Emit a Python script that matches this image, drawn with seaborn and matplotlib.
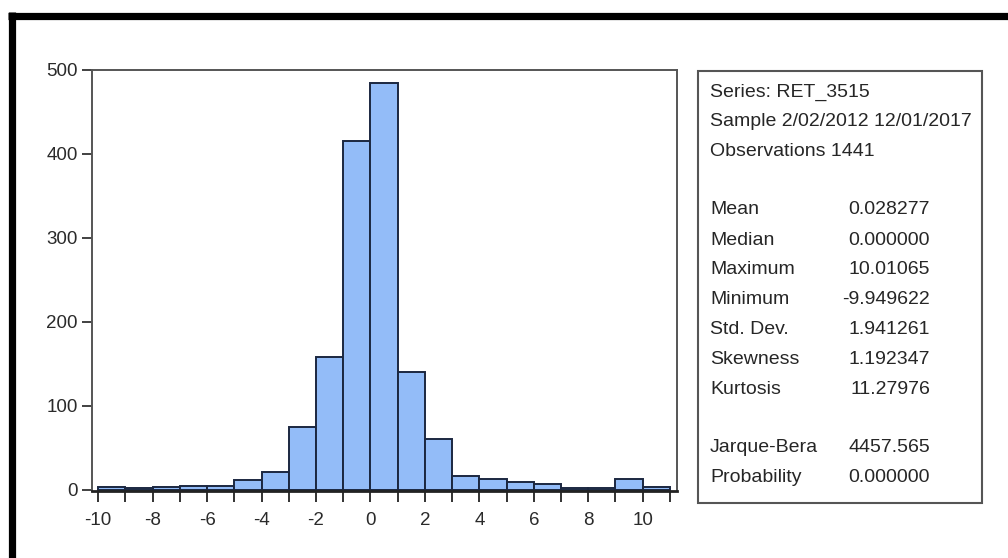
import numpy as np
import pandas as pd
import seaborn as sns
import matplotlib
matplotlib.use("Agg")
import matplotlib.pyplot as plt
from matplotlib.patches import Rectangle
from matplotlib.lines import Line2D

# ---- data ----
bin_left = [-10, -9, -8, -7, -6, -5, -4, -3, -2, -1, 0, 1, 2, 3, 4, 5, 6, 7, 8, 9, 10]
counts = [4, 2, 4, 5, 5, 12, 21, 75, 158, 415, 485, 140, 61, 17, 13, 9, 7, 2, 2, 13, 4]
major_ticks = [-10, -8, -6, -4, -2, 0, 2, 4, 6, 8, 10]
y_ticks = [0, 100, 200, 300, 400, 500]

header_lines = ["Series: RET_3515", "Sample 2/02/2012 12/01/2017", "Observations 1441"]
stat_names = ["Mean", "Median", "Maximum", "Minimum", "Std. Dev.", "Skewness", "Kurtosis"]
stat_values = ["0.028277", "0.000000", "10.01065", "-9.949622", "1.941261", "1.192347", "11.27976"]
test_names = ["Jarque-Bera", "Probability"]
test_values = ["4457.565", "0.000000"]

sns.set_theme(style="white")
plt.rcParams['font.family'] = ['Liberation Sans', 'DejaVu Sans']

W, H = 1008, 558
fig = plt.figure(figsize=(W / 100, H / 100), dpi=100)
fig.patch.set_facecolor("white")

def fx(px):
    return px / W

def fy(py):
    return 1 - py / H

ax = fig.add_axes([fx(91.7), fy(491), fx(676.7) - fx(91.7), fy(70) - fy(491)])

df = pd.DataFrame({"x": [b + 0.5 for b in bin_left], "w": counts})
edges = bin_left + [bin_left[-1] + 1]
sns.histplot(data=df, x="x", weights="w", bins=edges, ax=ax,
             color="#93bcf8", alpha=1.0, edgecolor="#1b2740", linewidth=1.4)

ax.set_xlim(-10.24, 11.25)
ax.set_ylim(-1.2, 500)
ax.set_xticks(major_ticks)
ax.set_xticklabels([str(t) for t in major_ticks])
ax.set_xticks(list(range(-10, 12)), minor=True)
ax.set_yticks(y_ticks)
ax.set_yticklabels([str(t) for t in y_ticks])
ax.set_xlabel("")
ax.set_ylabel("")
ax.tick_params(axis="x", which="both", direction="out", length=8, width=1.3,
               color="#222222", labelsize=13.5, pad=7, bottom=True, labelcolor="#2a2a2a")
ax.tick_params(axis="y", direction="out", length=7, width=1.3, color="#333333",
               labelsize=13.5, pad=3, left=True, labelcolor="#2a2a2a")
for side in ["left", "top", "right"]:
    ax.spines[side].set_color("#555555")
    ax.spines[side].set_linewidth(1.4)
ax.spines["bottom"].set_color("#222222")
ax.spines["bottom"].set_linewidth(2.0)

# stats box
fig.add_artist(Rectangle((fx(698), fy(503)), fx(982) - fx(698), fy(71) - fy(503),
                         transform=fig.transFigure, fill=False,
                         edgecolor="#555555", linewidth=1.5))
tkw = dict(fontsize=14, color="#262626", va="center")
hy = [92, 122, 151]
for t, y in zip(header_lines, hy):
    fig.text(fx(710), fy(y), t, ha="left", **tkw)
sy = [210, 240, 270, 300, 330, 360, 390]
for n, v, y in zip(stat_names, stat_values, sy):
    fig.text(fx(710), fy(y), n, ha="left", **tkw)
    fig.text(fx(930), fy(y), v, ha="right", **tkw)
ty = [448, 478]
for n, v, y in zip(test_names, test_values, ty):
    fig.text(fx(710), fy(y), n, ha="left", **tkw)
    fig.text(fx(930), fy(y), v, ha="right", **tkw)

# outer black frame (top and left)
fig.add_artist(Line2D([fx(8), fx(1008)], [fy(15.5), fy(15.5)], transform=fig.transFigure,
                      color="black", linewidth=5.2, solid_capstyle="butt"))
fig.add_artist(Line2D([fx(11.5), fx(11.5)], [fy(12), fy(558)], transform=fig.transFigure,
                      color="black", linewidth=5.2, solid_capstyle="butt"))

fig.savefig("out.png", dpi=100, facecolor="white")
